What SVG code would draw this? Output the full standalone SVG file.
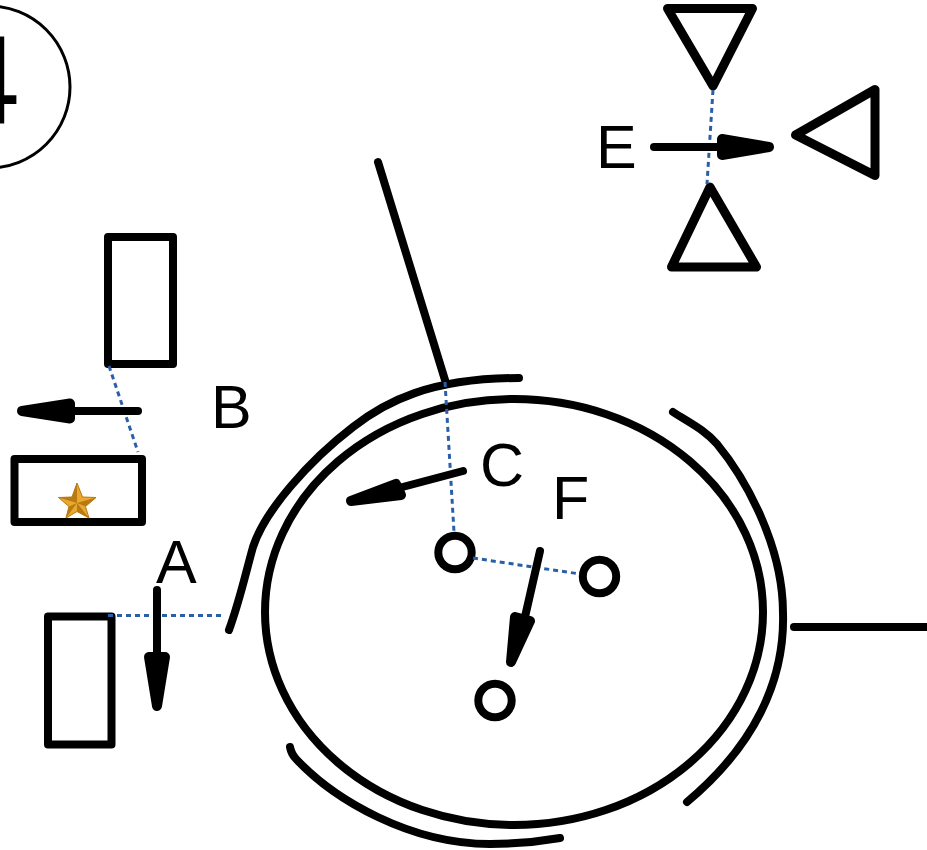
<svg xmlns="http://www.w3.org/2000/svg" width="927" height="850" viewBox="0 0 927 850">
<style>
.s{fill:none;stroke:#000;stroke-width:8;stroke-linecap:round;stroke-linejoin:round}
.w{fill:#fff;stroke:#000;stroke-width:8;stroke-linejoin:round}
.v{fill:#fff;stroke:#000;stroke-width:9;stroke-linejoin:round}
.o{fill:#fff;stroke:#000;stroke-width:8}
.d{fill:none;stroke:#2a5fa8;stroke-width:3;stroke-dasharray:5 4}
.h{fill:#000;stroke:#000;stroke-width:10;stroke-linejoin:round}
.t{font-family:"Liberation Sans",Arial,sans-serif;font-size:61px;fill:#000}
</style>
<rect width="927" height="850" fill="#fff"/>
<g id="badge"><circle cx="-11" cy="87" r="81" fill="#fff" stroke="#000" stroke-width="3"/><text x="-50" y="124" style="font-family:'Liberation Sans',Arial,sans-serif;font-size:126px">4</text></g>
<g id="body"><ellipse cx="514" cy="612" rx="249" ry="213" fill="none" stroke="#000" stroke-width="8"/></g>
<g id="shell">
<path class="s" d="M229 630C240 600 247 568 253 547C265 510 310 460 353 427C385 402 430 378 519 378"/>
<path class="s" d="M673 412C690 423 705 430 717 444C745 478 783 545 783 613C785 680 755 745 687 802"/>
<path class="s" d="M290 747C291 753 294 757 297 760C335 800 410 844 490 844C515 844 537 842 560 838"/>
<path class="s" d="M378 162L445 380"/>
<path class="s" d="M794 627H927"/>
</g>
<g id="node-b-top"><rect class="w" x="108" y="237" width="65" height="127"/></g>
<g id="node-b-bottom"><rect class="w" x="14.500" y="459" width="127.500" height="63"/>
<path fill="#e8a92e" stroke="#b9770f" stroke-width="1" d="M77 483L82.500 497L96 497.500L85.500 506.500L89 518L77 511.500L66 518L69 506.500L58.500 497.500L72 497Z"/>
<path fill="#b97a14" d="M77 483L77 503L72 497ZM96 497.500L77 503L85.500 506.500ZM89 518L77 503L77 511.500ZM66 518L77 503L69 506.500ZM58.500 497.500L77 503L72 497Z"/></g>
<g id="node-a"><rect class="w" x="48" y="616.500" width="63.500" height="128"/></g>
<g id="node-e-top"><path class="v" d="M667.500 8.500H752.500L713 86Z"/></g>
<g id="node-e-right"><path class="v" d="M875 89.500V175.500L795.500 135Z"/></g>
<g id="node-e-bottom"><path class="v" d="M710 187L756.500 267H671.500Z"/></g>
<g id="node-c"><circle class="o" cx="455" cy="552.500" r="16.700"/></g>
<g id="node-f-right"><circle class="o" cx="599.500" cy="576.500" r="16.700"/></g>
<g id="node-f-bottom"><circle class="o" cx="495" cy="700.500" r="16.700"/></g>
<g id="connectors">
<path class="d" d="M108 615.500H224"/>
<path class="d" d="M109 366L138 452"/>
<path class="d" d="M445 382L454 532"/>
<path class="d" d="M473 558L580 574"/>
<path class="d" d="M713 90L707 184"/>
<path class="s" d="M157 590V680"/><path class="h" d="M149 657L165 657L157 706Z"/>
<path class="s" d="M138 411H50"/><path class="h" d="M70 403.500V418.500L22 411Z"/>
<path class="s" d="M463 471L395 489"/><path class="h" d="M396 484L401 495L351 501Z"/>
<path class="s" d="M540 551L522 630"/><path class="h" d="M515 617L530 621L511 662Z"/>
<path class="s" d="M654 147H730"/><path class="h" d="M722 139V155L769 147Z"/>
</g>
<g id="labels">
<text class="t" x="156" y="583">A</text>
<text class="t" x="211" y="428">B</text>
<text class="t" x="480" y="486">C</text>
<text class="t" x="596" y="168">E</text>
<text class="t" x="552" y="519">F</text>
</g>
</svg>
